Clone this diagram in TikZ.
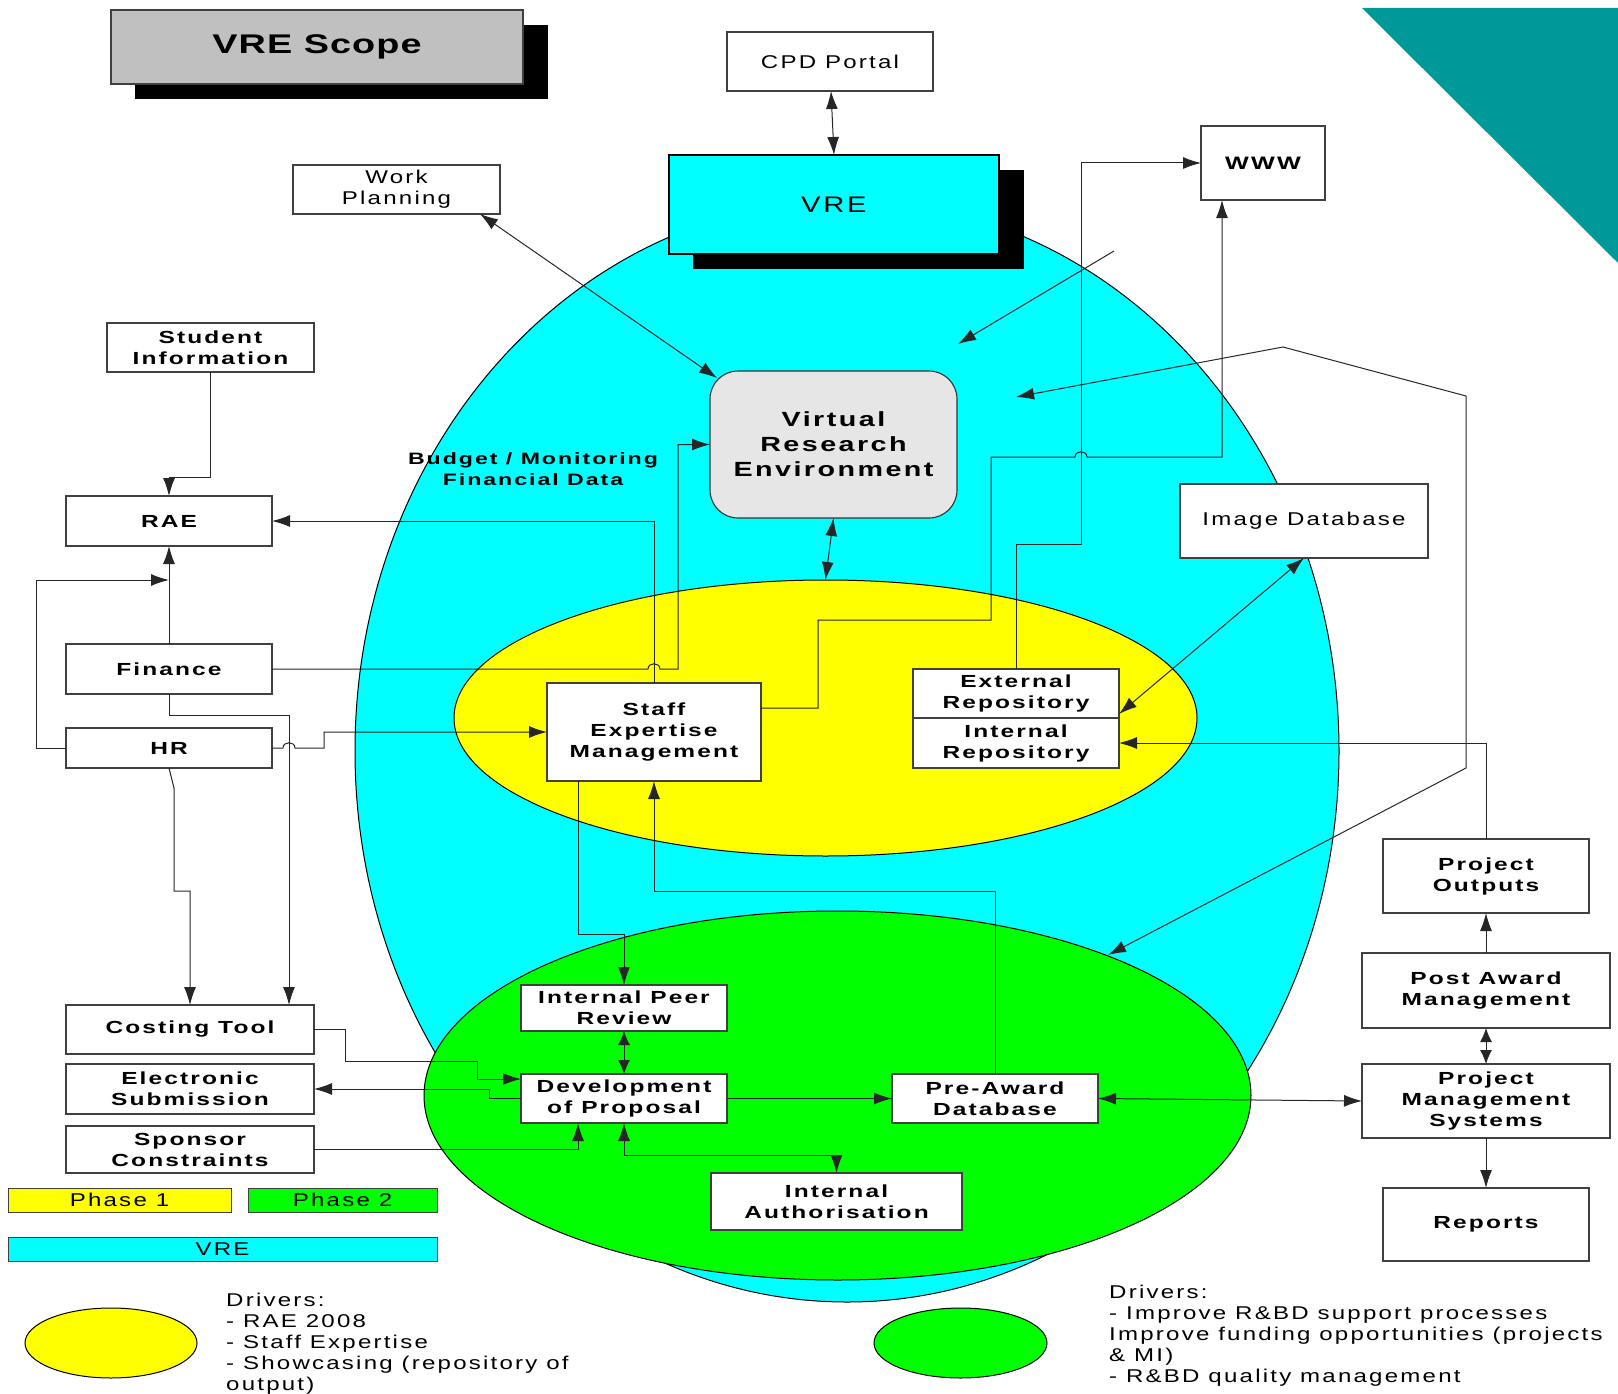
\documentclass[tikz,border=0pt]{standalone}
\usepackage{fontspec}
\newfontfamily\labr{Liberation Sans}[FakeStretch=1.3, LetterSpace=12]
\newfontfamily\labb{Liberation Sans}[FakeStretch=1.4, LetterSpace=12]
\newfontfamily\labt{Liberation Sans}[FakeStretch=1.4, LetterSpace=4]
\usetikzlibrary{shapes.geometric,arrows.meta,calc}
\definecolor{vcyan}{HTML}{00FFFF}
\definecolor{vyellow}{HTML}{FFFF00}
\definecolor{vgreen}{HTML}{00FF00}
\definecolor{vteal}{HTML}{009999}
\definecolor{tgrey}{HTML}{C0C0C0}
\definecolor{ngrey}{HTML}{E6E6E6}
\newcommand\setfs[2]{\fontsize{#1}{#2}\selectfont}
\begin{document}
\begin{tikzpicture}[x=1pt,y=-1pt,
  sz/.style 2 args={minimum width=#1pt, minimum height=#2pt},
  box/.style={draw=black!75, line width=1.1pt, fill=white, inner sep=0pt, outer sep=0pt, align=center, font=\labb\bfseries\setfs{17.5}{21}},
  rbox/.style={box, font=\labr\setfs{18.5}{21}},
  ell/.style={ellipse, draw=black, line width=1pt, inner sep=0pt, outer sep=0pt},
  conn/.style={line width=1pt, draw=black!85},
  arr/.style={conn, -{Latex[length=18pt,width=12pt]}},
  darr/.style={conn, {Latex[length=18pt,width=12pt]}-{Latex[length=18pt,width=12pt]}},
  sdarr/.style={conn, {Latex[length=14pt,width=12pt]}-{Latex[length=14pt,width=12pt]}}
]
\useasboundingbox (0,0) rectangle (1618,1394);

% corner triangle
\fill[vteal] (1362,8) -- (1618,8) -- (1618,263) -- cycle;

% title
\fill[black] (135,25) rectangle (548,99);
\node[box, fill=tgrey, sz={412}{74}, font=\labt\bfseries\setfs{27}{30}] (title) at (317,47) {VRE Scope};

% ellipses
\node[ell, fill=vcyan, sz={984}{1102}] (vre) at (847,751) {};
\node[ell, fill=vyellow, sz={743}{276}] (yel) at (825.5,718) {};
\node[ell, fill=vgreen, sz={827}{369}] (grn) at (837.5,1095.5) {};

% VRE box
\fill[black] (693,170) rectangle (1024,269);
\node[box, fill=vcyan, draw=black, sz={330}{99}, font=\labr\setfs{22.5}{26}] (vrebox) at (834,204.5) {VRE};

% top nodes
\node[rbox, sz={206}{59}] (cpd) at (830,61.5) {CPD Portal};
\node[rbox, sz={207}{49}] (work) at (396.5,189.5) {Work\\Planning};
\node[box, sz={124}{74}, font=\labb\bfseries\setfs{18}{22}] (www) at (1263,163) {WWW};
\node[rbox, sz={248}{74}] (imgdb) at (1304,521) {Image Database};
\node[box, fill=ngrey, draw=black!80, rounded corners=28pt, sz={247}{147}, font=\labb\bfseries\setfs{20.5}{25}] (vrenode) at (833.5,444.5) {Virtual\\Research\\Environment};
\node[font=\labb\bfseries\setfs{16.5}{21}, align=center, inner sep=0pt] (budget) at (533,469.5) {Budget / Monitoring\\Financial Data};

% left column
\node[box, sz={207}{49}] (student) at (210.5,347.5) {Student\\Information};
\node[box, sz={206}{50}] (rae) at (169,521) {RAE};
\node[box, sz={206}{50}] (finance) at (169,669) {Finance};
\node[box, sz={206}{40}] (hr) at (169,748) {HR};
\node[box, sz={248}{49}] (costing) at (190,1029.5) {Costing Tool};
\node[box, sz={248}{50}] (esub) at (190,1089) {Electronic\\Submission};
\node[box, sz={248}{47}] (sponsor) at (190,1149.5) {Sponsor\\Constraints};

% legend bars
\node[rbox, fill=vyellow, line width=1pt, sz={223}{24}] (ph1) at (119.5,1200) {Phase 1};
\node[rbox, fill=vgreen, line width=1pt, sz={189}{24}] (ph2) at (342.5,1200) {Phase 2};
\node[rbox, fill=vcyan, line width=1pt, sz={429}{24}] (vrebar) at (222.5,1249) {VRE};

% phase 1 nodes
\node[box, sz={214}{98}] (staff) at (654,732) {Staff\\Expertise\\Management};
\node[box, sz={206}{49}] (extrepo) at (1016,693.5) {External\\Repository};
\node[box, sz={206}{50}] (intrepo) at (1016,743) {Internal\\Repository};

% phase 2 nodes
\node[box, sz={206}{46}] (ipr) at (624,1008) {Internal Peer\\Review};
\node[box, sz={206}{49}] (dev) at (624,1098.5) {Development\\of Proposal};
\node[box, sz={206}{49}] (preaward) at (995,1098.5) {Pre-Award\\Database};
\node[box, sz={251}{57}] (intauth) at (836.5,1201.5) {Internal\\Authorisation};

% right column
\node[box, sz={206}{74}] (projout) at (1486,876) {Project\\Outputs};
\node[box, sz={248}{75}] (postaward) at (1486,990.5) {Post Award\\Management};
\node[box, sz={248}{74}] (pms) at (1486,1101) {Project\\Management\\Systems};
\node[box, sz={206}{73}] (reports) at (1486,1224.5) {Reports};

% legend ellipses and drivers
\node[ell, fill=vyellow, sz={172}{70}] (ly) at (111,1343) {};
\node[ell, fill=vgreen, sz={173}{70}] (lg) at (960.5,1343) {};
\node[anchor=north west, align=left, inner sep=0pt, font=\labr\setfs{18.5}{21}] (drv1) at (226,1293)
  {Drivers:\\- RAE 2008\\- Staff Expertise\\- Showcasing (repository of\\output)};
\node[anchor=north west, align=left, inner sep=0pt, font=\labr\setfs{18.5}{21}] (drv2) at (1109,1285)
  {Drivers:\\- Improve R\&BD support processes\\Improve funding opportunities (projects\\\& MI)\\- R\&BD quality management};

% connectors
\draw[darr] ([xshift=1pt]cpd.south) -- (vrebox.north);
\draw[darr] ([xshift=-20pt]work.south east) -- ([shift={(7pt,-7pt)}]vrenode.north west);
\coordinate (fa1) at (1114,251);
\coordinate (fa2) at (958,344);
\draw[arr] (fa1) -- (fa2);
\coordinate (fb1) at (1016,397);
\coordinate (fb2) at (1283,347);
\coordinate (fb3) at (1466,396);
\coordinate (fb4) at (1466,768);
\coordinate (fb5) at (1108,955);
\draw[darr] (fb1) -- (fb2) -- (fb3) -- (fb4) -- (fb5);

\draw[arr] ([yshift=24pt]staff.east) -- (818,708) -- (818,620) -- (991,620) -- (991,457) -- (1075,457)
  .. controls (1075,450) and (1087,450) .. (1087,457) -- (1222,457) -- ([xshift=-41pt]www.south);
\draw[arr] (extrepo.north) -- (1016,544) -- (1081,544) -- (1081,163) -- (www.west);
\draw[darr] (imgdb.south) -- ([yshift=4pt]extrepo.south east);
\draw[arr] (projout.north) -- (1486,743) -- (intrepo.east);
\draw[arr] (postaward.north) -- (projout.south);
\draw[sdarr] (postaward.south) -- (pms.north);
\draw[arr] (pms.south) -- (reports.north);
\draw[darr] (preaward.east) -- (pms.west);
\draw[arr] (dev.east) -- (preaward.west);
\draw[sdarr] (ipr.south) -- (dev.north);
\draw[darr] (dev.south) -- (624,1155) -- (836.5,1155) -- (intauth.north);
\draw[arr] (sponsor.east) -- (578,1149.5) -- ([xshift=-46pt]dev.south);
\draw[arr] (costing.east) -- (345,1029.5) -- (345,1061) -- (477,1061) -- (477,1079) -- ([yshift=19.5pt]dev.west);
\draw[arr] (dev.west) -- (489,1098.5) -- (489,1089) -- (esub.east);
\draw[arr] ([xshift=-76pt]staff.south) -- (578,934) -- (624,934) -- (ipr.north);
\draw[arr] (preaward.north) -- (995,891) -- (654,891) -- (staff.south);
\draw[arr] (staff.north) -- (654,521) -- (rae.east);
\draw[arr] (finance.east) -- (648,669) .. controls (648,662) and (660,662) .. (660,669) -- (678,669) -- (678,444.5) -- (vrenode.west);
\draw[arr] (hr.east) -- (283,748) .. controls (283,741) and (295,741) .. (295,748) -- (324,748) -- (324,732) -- (staff.west);
\draw[arr] (finance.south) -- (169,715) -- (289,715) -- ([xshift=99pt]costing.north);
\draw[arr] (hr.south) -- (174,788) -- (174,891) -- (190,891) -- (costing.north);
\coordinate (j1) at (169,580);
\draw[arr] (hr.west) -- (36,748) -- (36,580) -- (j1);
\draw[arr] (finance.north) -- (rae.south);
\draw[arr] (student.south) -- (210.5,477) -- (169,477) -- (rae.north);
\draw[darr] (vrenode.south) -- (yel.north);
\end{tikzpicture}
\end{document}
